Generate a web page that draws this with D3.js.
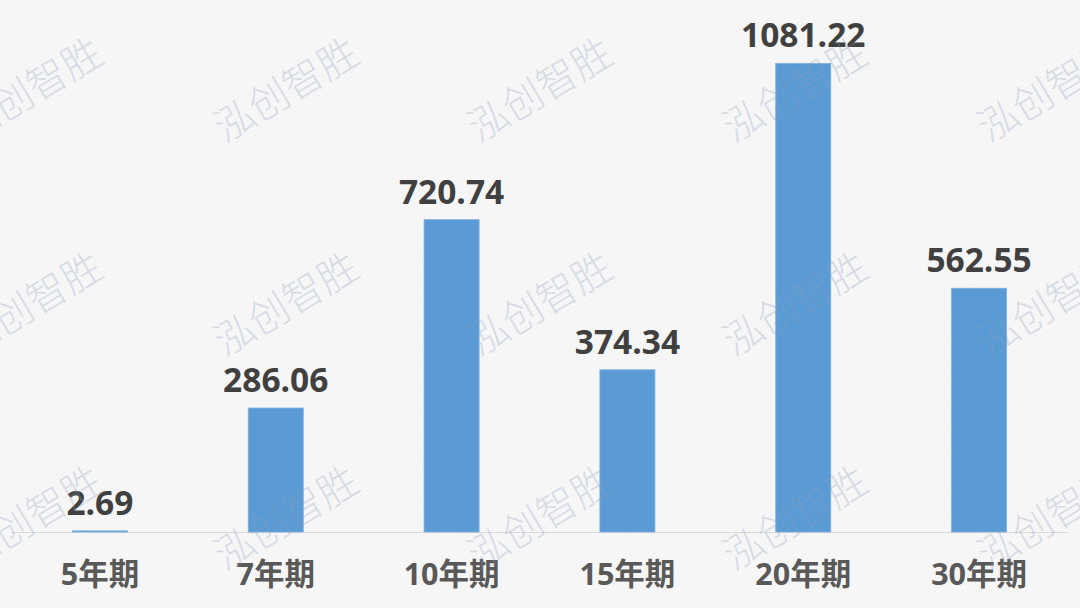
<!DOCTYPE html>
<html>
<head>
<meta charset="utf-8">
<script src="https://cdn.jsdelivr.net/npm/d3@7"></script>
<style>
  html, body { margin: 0; padding: 0; background: #f7f7f7; }
  svg { display: block; }
</style>
</head>
<body>
<div id="chart"></div>
<script>
// data
const categories = ["5年期", "7年期", "10年期", "15年期", "20年期", "30年期"];
const values = [2.69, 286.06, 720.74, 374.34, 1081.22, 562.55];
const watermarkText = "泓创智胜";
const watermarkCols = [30, 286, 540, 795, 1050];
const watermarkRows = [90, 304, 518];

const width = 1080, height = 608;
const baseY = 532;

const svg = d3.select("#chart").append("svg")
    .attr("width", width)
    .attr("height", height);

// faint diagonal texture on the background
const defs = svg.append("defs");
const pat = defs.append("pattern")
    .attr("id", "hatch")
    .attr("width", 4)
    .attr("height", 4)
    .attr("patternUnits", "userSpaceOnUse")
    .attr("patternTransform", "rotate(-35)");
pat.append("rect").attr("width", 4).attr("height", 4).attr("fill", "#f7f7f7");
pat.append("line")
    .attr("x1", 0).attr("y1", 0).attr("x2", 4).attr("y2", 0)
    .attr("stroke", "#f0f0f0").attr("stroke-width", 1);

svg.append("rect")
    .attr("width", width)
    .attr("height", height)
    .attr("fill", "url(#hatch)");

const x = d3.scaleBand()
    .domain(categories)
    .range([12, 1067])
    .paddingInner(0.687)
    .paddingOuter(0.3435);

const y = d3.scaleLinear()
    .domain([0, 1200])
    .range([baseY, 12]);

const data = categories.map((c, i) => ({ cat: c, val: values[i] }));

// baseline
svg.append("line")
    .attr("x1", 12).attr("x2", 1068)
    .attr("y1", baseY + 0.5).attr("y2", baseY + 0.5)
    .attr("stroke", "#d9d9d9")
    .attr("stroke-width", 1);

// bars
svg.append("g").selectAll("rect")
    .data(data)
    .join("rect")
    .attr("x", d => x(d.cat))
    .attr("y", d => y(d.val))
    .attr("width", x.bandwidth())
    .attr("height", d => baseY - y(d.val))
    .attr("fill", "#5b9bd5")
    .attr("stroke", "#7db0df")
    .attr("stroke-width", 0.8);

// value labels
svg.append("g").selectAll("text")
    .data(data)
    .join("text")
    .attr("x", d => x(d.cat) + x.bandwidth() / 2)
    .attr("y", d => y(d.val) - 16)
    .attr("text-anchor", "middle")
    .attr("font-family", "'Open Sans', 'Noto Sans CJK SC', sans-serif")
    .attr("font-weight", "bold")
    .attr("font-size", 33.5)
    .attr("fill", "#404040")
    .text(d => d.val.toFixed(2));

// category labels
const xAxis = d3.axisBottom(x).tickSize(0).tickPadding(0);
const axisG = svg.append("g")
    .attr("transform", `translate(0,${baseY})`)
    .call(xAxis);
axisG.select(".domain").remove();
axisG.selectAll("text")
    .attr("y", 53)
    .attr("dy", 0)
    .attr("font-family", "'Open Sans', 'Noto Sans CJK SC', sans-serif")
    .attr("font-weight", "bold")
    .attr("font-size", 30.5)
    .attr("fill", "#595959");

// watermark on top
const wm = svg.append("g").attr("pointer-events", "none");
watermarkRows.forEach(ry => {
    watermarkCols.forEach(cx => {
        wm.append("text")
            .attr("transform", `translate(${cx},${ry}) rotate(-31)`)
            .attr("text-anchor", "middle")
            .attr("dy", "0.35em")
            .attr("font-family", "'Noto Sans CJK SC', sans-serif")
            .attr("font-size", 40)
            .attr("font-weight", 300)
            .attr("fill", "#8a9bb8")
            .attr("fill-opacity", 0.3)
            .text(watermarkText);
    });
});
</script>
</body>
</html>
